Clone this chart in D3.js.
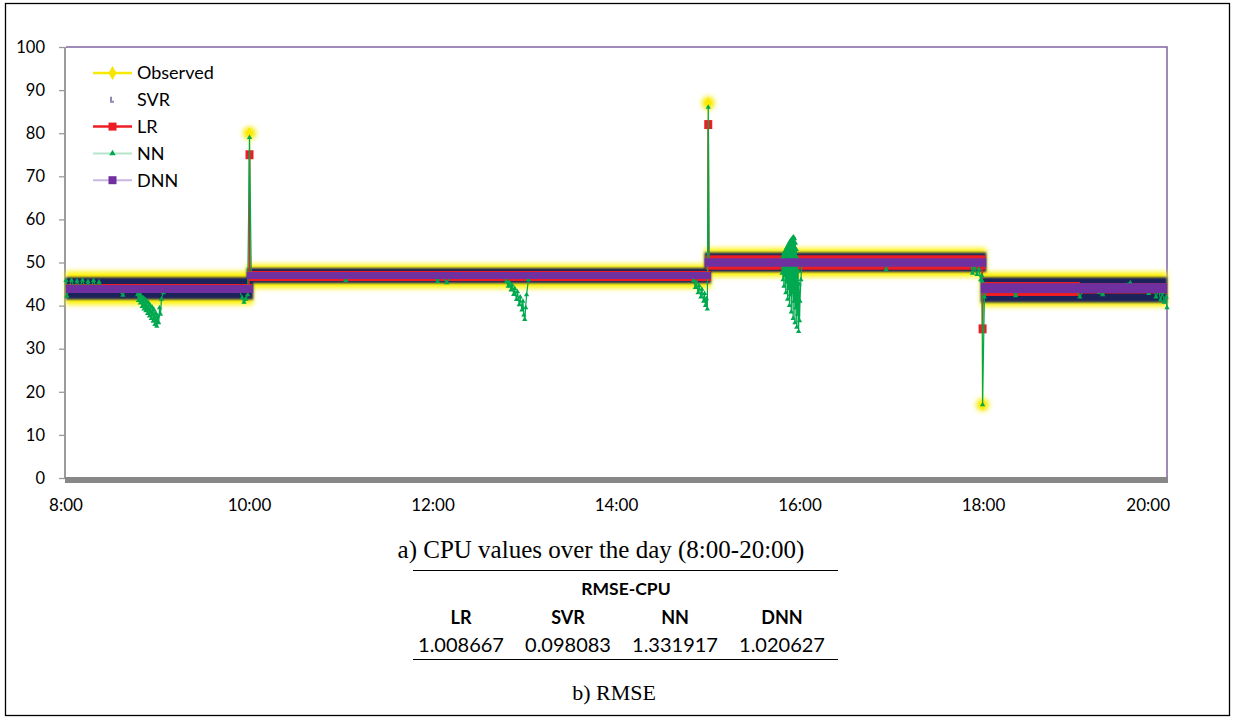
<!DOCTYPE html>
<html><head><meta charset="utf-8">
<script src="https://cdn.jsdelivr.net/npm/d3@7"></script>
<style>body{margin:0;background:#fff;} svg{display:block;}</style>
</head><body><svg id="c" width="1236" height="719"></svg>
<script>
// ---------- data ----------
const yTicks = [0, 10, 20, 30, 40, 50, 60, 70, 80, 90, 100];
const xTickHours = [8, 10, 12, 14, 16, 18, 20];
const xTickLabels = ["8:00", "10:00", "12:00", "14:00", "16:00", "18:00", "20:00"];
const seriesNames = ["Observed", "SVR", "LR", "NN", "DNN"];

// dense series are summarised by their envelope per level: [startHour, endHour, low, high]
const observedBand = [[8.00, 10.04, 40.2, 47.9], [9.97, 15.03, 44.0, 49.6], [14.96, 18.03, 46.7, 53.3], [17.97, 20.0, 39.8, 47.8]];
const observedSpikes = [[10.0, 80], [15.0, 87], [17.99, 17]];
const svrBand = [[8.00, 10.04, 41.4, 46.6], [9.97, 15.03, 45.2, 48.7], [14.96, 18.03, 47.8, 52.3], [17.97, 20.0, 40.7, 46.6]];
const lrBand = [[8.00, 10.03, 42.9, 45.0], [9.98, 15.03, 45.7, 48.0], [14.97, 18.02, 48.3, 51.7], [17.98, 19.05, 42.2, 45.5], [19.05, 20.0, 42.8, 45.2]];
const lrSpikes = [[10.0, 75], [15.0, 82], [17.99, 34.6]];
const dnnBand = [[8.00, 10.04, 42.9, 44.8], [9.97, 15.03, 46.2, 47.8], [14.96, 18.03, 49.0, 51.0], [17.97, 20.0, 42.9, 45.2]];
const nnPoints = [
  [8.00, 45.8], [8.01, 42.2], [8.03, 44], [8.06, 45.9], [8.09, 44], [8.12, 45.7], [8.15, 44.2], [8.18, 45.9], [8.21, 44],
  [8.24, 45.6], [8.27, 44], [8.30, 45.8], [8.33, 44], [8.36, 45.5], [8.40, 44], [8.55, 44], [8.62, 42.4], [8.66, 44],
  [8.76, 44], [8.78, 42.5], [8.79, 41.2], [8.80, 42.8], [8.81, 40.6], [8.82, 42.2], [8.83, 39.8], [8.84, 41.8],
  [8.85, 39.2], [8.86, 41.5], [8.87, 38.8], [8.88, 41.0], [8.89, 38.2], [8.90, 40.6], [8.91, 37.6], [8.92, 40.0],
  [8.93, 37.0], [8.94, 39.6], [8.95, 36.4], [8.96, 39.0], [8.97, 35.6], [8.98, 38.2], [8.99, 35.2], [9.00, 37.6],
  [9.01, 36.0], [9.02, 39.5], [9.03, 38.0], [9.04, 41.5], [9.06, 43], [9.08, 44],
  [9.40, 44], [9.70, 43.5], [9.88, 44], [9.92, 41.8], [9.94, 40.8], [9.96, 41.5], [9.98, 42.5],
  [10.00, 79], [10.02, 46.5], [10.10, 47], [10.60, 47], [11.03, 47], [11.05, 45.8], [11.08, 47], [12.00, 47],
  [12.05, 45.6], [12.10, 47], [12.15, 45.3], [12.20, 47], [12.78, 47], [12.80, 45.6], [12.82, 44.5], [12.83, 45.4],
  [12.85, 43.6], [12.86, 44.8], [12.88, 42.6], [12.89, 44.0], [12.91, 41.4], [12.92, 43.2], [12.94, 40.2],
  [12.95, 42.0], [12.97, 39.0], [12.98, 41.0], [12.99, 37.8], [13.00, 36.8], [13.01, 39.5], [13.02, 42.5],
  [13.04, 46], [13.06, 47], [13.60, 47], [14.20, 47], [14.82, 47], [14.84, 45.8], [14.86, 44.2], [14.87, 45.4],
  [14.89, 43.0], [14.90, 44.6], [14.92, 42.0], [14.93, 43.8], [14.95, 41.0], [14.96, 42.8], [14.97, 40.0],
  [14.98, 41.6], [14.99, 39.2], [15.00, 86], [15.01, 50], [15.40, 50], [15.79, 50],
  [15.80, 50.5], [15.805, 47.5], [15.81, 51.2], [15.815, 46], [15.82, 51.8], [15.825, 44.5], [15.83, 52.3],
  [15.835, 47], [15.84, 52.8], [15.845, 43], [15.85, 53.2], [15.855, 45.5], [15.86, 53.6], [15.865, 41.5],
  [15.87, 54.0], [15.875, 44], [15.88, 54.4], [15.885, 40], [15.89, 54.8], [15.895, 42.5], [15.90, 55.1],
  [15.905, 38.5], [15.91, 55.4], [15.915, 43], [15.92, 55.7], [15.925, 37], [15.93, 55.9], [15.935, 41],
  [15.94, 55.5], [15.945, 36], [15.95, 54.5], [15.955, 39.5], [15.96, 53], [15.965, 35], [15.97, 51],
  [15.975, 38], [15.98, 48], [15.985, 34], [15.99, 45], [15.995, 36.5], [16.00, 41], [16.01, 46], [16.02, 49.5],
  [16.05, 50], [16.60, 50], [16.92, 50], [16.94, 48.3], [16.96, 50], [17.50, 50], [17.86, 50],
  [17.88, 47.5], [17.90, 48.8], [17.93, 47.2], [17.95, 48.5], [17.97, 46.0], [17.98, 47.0], [17.985, 45.7],
  [17.99, 17], [18.01, 42.0], [18.05, 44], [18.30, 44], [18.35, 42.3], [18.40, 44], [19.00, 44], [19.05, 42.0],
  [19.10, 44], [19.30, 42.5], [19.35, 44], [19.60, 45.3], [19.65, 44], [19.75, 44], [19.80, 42.8], [19.85, 44],
  [19.88, 42.0], [19.91, 43.5], [19.93, 41.3], [19.95, 43.0], [19.97, 40.8], [19.99, 42.0], [20.00, 39.5]
];
const rmseTitle = "RMSE-CPU";
const rmseModels = ["LR", "SVR", "NN", "DNN"];
const rmseValues = ["1.008667", "0.098083", "1.331917", "1.020627"];
const captionA = "a) CPU values over the day (8:00-20:00)";
const captionB = "b) RMSE";

// ---------- styling ----------
const C = { obs: "#fff200", svr: "#1c215a", lr: "#ee1d23", nn: "#00a84f", dnn: "#7030a0" };
const svg = d3.select("#c");
const defs = svg.append("defs");
defs.append("filter").attr("id", "glow").attr("x", "-20%").attr("y", "-50%").attr("width", "140%").attr("height", "200%")
  .append("feGaussianBlur").attr("stdDeviation", 2.4);
defs.append("filter").attr("id", "soft").attr("x", "-20%").attr("y", "-50%").attr("width", "140%").attr("height", "200%")
  .append("feGaussianBlur").attr("stdDeviation", 1.2);

// outer frame
svg.append("rect").attr("x", 5.5).attr("y", 3.5).attr("width", 1224).attr("height", 712)
  .attr("fill", "none").attr("stroke", "#000").attr("stroke-width", 1.3);

const x = d3.scaleLinear().domain([8, 20]).range([66, 1167]);
const y = d3.scaleLinear().domain([0, 100]).range([478, 47]);
const sans = "Lato, 'Open Sans', sans-serif";
const serif = "'Liberation Serif', 'Times New Roman', serif";

// plot-area border (purple top / right)
svg.append("path").attr("d", `M${x(8)},${y(100)}H${x(20)}V${y(0)}`).attr("fill", "none")
  .attr("stroke", "#8064a2").attr("stroke-width", 1.5);

// y axis
svg.append("line").attr("x1", x(8) - 1).attr("x2", x(8) - 1).attr("y1", y(100)).attr("y2", y(0))
  .attr("stroke", "#9b9b9b").attr("stroke-width", 2);
const yAx = svg.append("g").attr("transform", `translate(${x(8) - 1},0)`)
  .call(d3.axisLeft(y).tickValues(yTicks).tickSize(6).tickPadding(14).tickFormat(d3.format("d")));
yAx.select(".domain").remove();
yAx.selectAll("line").attr("stroke", "#9b9b9b").attr("stroke-width", 1.3);
yAx.selectAll("text").attr("font-family", sans).attr("font-size", 16.5).attr("fill", "#000");

// x axis (thick grey bar) + labels
svg.append("rect").attr("x", x(8) - 1).attr("y", y(0) - 1).attr("width", x(20) - x(8) + 2).attr("height", 6).attr("fill", "#878787");
svg.append("g").selectAll("text").data(xTickHours).join("text")
  .attr("x", (d, i) => i === xTickHours.length - 1 ? x(d) + 3 : x(d))
  .attr("y", 511)
  .attr("text-anchor", (d, i) => i === xTickHours.length - 1 ? "end" : "middle")
  .attr("font-family", sans).attr("font-size", 17).attr("fill", "#000")
  .text((d, i) => xTickLabels[i]);

// ---------- marks ----------
const area = d3.area().x(d => x(d[0])).y0(d => y(d[1])).y1(d => y(d[2]));
const line = d3.line().x(d => x(d[0])).y(d => y(d[1]));
function bandRows(b) { return b.map(s => [[s[0], s[2], s[3]], [s[1], s[2], s[3]]]); }
function levelAt(b, t) {
  const s = b.find(s => t >= s[0] && t <= s[1]);
  return s ? (s[2] + s[3]) / 2 : null;
}
function spikeRows(b, spikes) {
  return spikes.map(([t, v]) => [[t - 0.004, levelAt(b, t - 0.06)], [t, v], [t + 0.004, levelAt(b, t + 0.06)]]);
}
const plot = svg.append("g");

// Observed (yellow glow band)
plot.append("g").attr("filter", "url(#glow)").selectAll("path").data(bandRows(observedBand)).join("path")
  .attr("d", area).attr("fill", C.obs);
plot.append("g").selectAll("path").data(spikeRows(observedBand, observedSpikes)).join("path")
  .attr("d", line).attr("fill", "none").attr("stroke", C.obs).attr("stroke-width", 1.5);
plot.append("g").attr("filter", "url(#glow)").selectAll("circle").data(observedSpikes).join("circle")
  .attr("cx", d => x(d[0])).attr("cy", d => y(d[1])).attr("r", 6.5).attr("fill", "#f4ec00");
plot.append("g").selectAll("path").data(observedSpikes).join("path")
  .attr("transform", d => `translate(${x(d[0])},${y(d[1])})`)
  .attr("d", d3.symbol(d3.symbolDiamond, 40)).attr("fill", "#ffe800");

// SVR (dense dark band)
plot.append("g").attr("filter", "url(#soft)").selectAll("path").data(bandRows(svrBand)).join("path")
  .attr("d", area).attr("fill", C.svr);

// LR
plot.append("g").selectAll("path").data(bandRows(lrBand)).join("path").attr("d", area).attr("fill", C.lr);
plot.append("g").selectAll("path").data(spikeRows(lrBand, lrSpikes)).join("path")
  .attr("d", line).attr("fill", "none").attr("stroke", C.lr).attr("stroke-width", 1.6);
plot.append("g").selectAll("rect").data(lrSpikes).join("rect")
  .attr("x", d => x(d[0]) - 4).attr("y", d => y(d[1]) - 4.5).attr("width", 8).attr("height", 9).attr("fill", C.lr);

// NN
plot.append("path").datum(nnPoints).attr("d", line).attr("fill", "none").attr("stroke", C.nn).attr("stroke-width", 1.2);
plot.append("g").selectAll("path").data(nnPoints).join("path")
  .attr("transform", d => `translate(${x(d[0])},${y(d[1])})`)
  .attr("d", d3.symbol(d3.symbolTriangle, 12)).attr("fill", C.nn);

// DNN
plot.append("g").selectAll("path").data(bandRows(dnnBand)).join("path").attr("d", area).attr("fill", C.dnn);

// ---------- legend ----------
const lg = svg.append("g").attr("font-family", sans).attr("font-size", 18);
const legendStyle = {
  Observed: { stroke: "#f7ea00", sw: 2.5, mark: "diamond", fill: "#f7e400" },
  SVR: { stroke: null, mark: "svr", fill: "#8c8ab4" },
  LR: { stroke: C.lr, sw: 2.5, mark: "square", fill: C.lr },
  NN: { stroke: "#b4e6cc", sw: 2, mark: "triangle", fill: C.nn },
  DNN: { stroke: "#cbb6e2", sw: 2, mark: "square", fill: C.dnn }
};
seriesNames.forEach((name, i) => {
  const cy = 73 + i * 26.8, st = legendStyle[name];
  const g = lg.append("g").attr("transform", `translate(0,${cy})`);
  if (st.stroke) g.append("line").attr("x1", 93).attr("x2", 132).attr("stroke", st.stroke).attr("stroke-width", st.sw);
  if (st.mark === "diamond") g.append("path").attr("transform", "translate(112.5,0)").attr("d", d3.symbol(d3.symbolDiamond, 55)).attr("fill", st.fill);
  if (st.mark === "square") g.append("rect").attr("x", 108.5).attr("y", -4).attr("width", 8).attr("height", 8).attr("fill", st.fill);
  if (st.mark === "triangle") g.append("path").attr("transform", "translate(112.5,0)").attr("d", d3.symbol(d3.symbolTriangle, 18)).attr("fill", st.fill);
  if (st.mark === "svr") g.append("path").attr("d", "M110,-3H112V1H114V3H110Z").attr("fill", st.fill);
  g.append("text").attr("x", 137).attr("y", 0).attr("dy", "0.35em").attr("fill", "#000").text(name);
});

// ---------- captions and table ----------
svg.append("text").attr("x", 601).attr("y", 558).attr("text-anchor", "middle")
  .attr("font-family", serif).attr("font-size", 25).text(captionA);
svg.append("line").attr("x1", 413).attr("x2", 838).attr("y1", 570.5).attr("y2", 570.5).attr("stroke", "#000").attr("stroke-width", 1.2);
svg.append("line").attr("x1", 413).attr("x2", 838).attr("y1", 659.5).attr("y2", 659.5).attr("stroke", "#000").attr("stroke-width", 1.2);
svg.append("text").attr("x", 626).attr("y", 595).attr("text-anchor", "middle").attr("font-family", sans)
  .attr("font-weight", "bold").attr("font-size", 17.5).text(rmseTitle);
const colX = d3.scalePoint().domain(rmseModels).range([461, 782]);
svg.append("g").selectAll("text").data(rmseModels).join("text")
  .attr("x", d => colX(d)).attr("y", 624).attr("text-anchor", "middle").attr("font-family", sans)
  .attr("font-weight", "bold").attr("font-size", 18).text(d => d);
svg.append("g").selectAll("text").data(rmseValues).join("text")
  .attr("x", (d, i) => colX(rmseModels[i])).attr("y", 652).attr("text-anchor", "middle").attr("font-family", sans)
  .attr("font-size", 20).text(d => d);
svg.append("text").attr("x", 614).attr("y", 700).attr("text-anchor", "middle")
  .attr("font-family", serif).attr("font-size", 22).text(captionB);
</script></body></html>
